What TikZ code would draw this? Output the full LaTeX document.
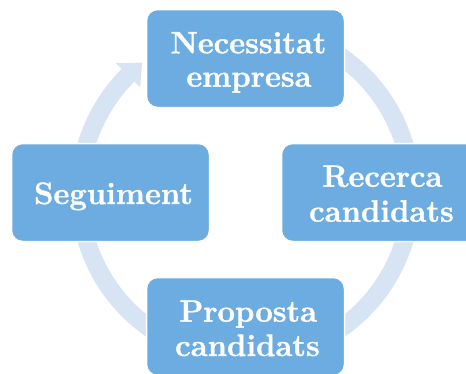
\documentclass[tikz,border=0pt]{standalone}
\usepackage{fontspec}
\setmainfont{Latin Modern Roman}[BoldFeatures={FakeBold=1.2}]
\definecolor{boxc}{RGB}{108,172,225}
\definecolor{ringc}{RGB}{214,228,243}
\begin{document}
\begin{tikzpicture}[x=1pt,y=-1pt,
  box/.style={draw=white, line width=1.5pt, fill=boxc, rounded corners=11pt,
    minimum width=198pt, minimum height=98pt, inner sep=0pt},
  lbl/.style={text=white, font=\fontsize{31}{34}\selectfont\bfseries,
    anchor=base, inner sep=0pt},
  ring/.style={draw=ringc, line width=18pt}]
\useasboundingbox (0,0) rectangle (466,373);
\clip (0,0) rectangle (466,373);
\fill[white] (0,0) rectangle (466,373);
\coordinate (c) at (245.5,192.5);
% cycle ring
\draw[ring] ([shift={(245:166)}]c) arc[start angle=245, end angle=585, radius=166];
\fill[ringc] ([shift={(225:183)}]c) -- ([shift={(231.5:166)}]c) -- ([shift={(225:149)}]c) -- cycle;
% boxes
\node[box] (nec) at (245.5,58.5) {};
\node[box] (rec) at (380.5,192.5) {};
\node[box] (pro) at (245.5,326.5) {};
\node[box] (seg) at (110.5,192.5) {};
% labels
\node[lbl] (t1) at (248.5,53.3) {Necessitat};
\node[lbl] (t2) at (249,86.7) {empresa};
\node[lbl] (t3) at (382.5,186.7) {Recerca};
\node[lbl] (t4) at (381.5,221.7) {candidats};
\node[lbl] (t5) at (248.3,321.7) {Proposta};
\node[lbl] (t6) at (247.5,356) {candidats};
\node[lbl] (t7) at (113.5,204) {Seguiment};
\end{tikzpicture}
\end{document}
